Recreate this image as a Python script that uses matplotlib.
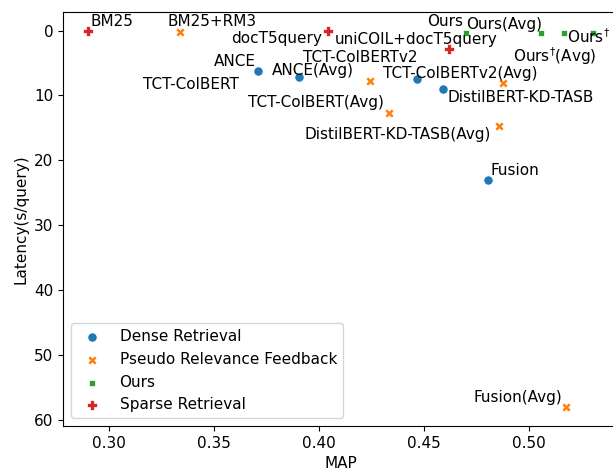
import matplotlib
matplotlib.use("Agg")
import matplotlib.pyplot as plt

plt.rcParams['font.size'] = 11

# Method names, retrieval effectiveness (MAP) and latency (s/query)
dense_names = ["ANCE", "TCT-ColBERT", "TCT-ColBERTv2", "DistilBERT-KD-TASB", "Fusion"]
dense_map = [0.371, 0.3905, 0.4467, 0.4591, 0.4805]
dense_lat = [6.3, 7.1, 7.4, 9.05, 23.0]

prf_names = ["BM25+RM3", "ANCE(Avg)", "TCT-ColBERT(Avg)", "TCT-ColBERTv2(Avg)",
             "DistilBERT-KD-TASB(Avg)", "Fusion(Avg)"]
prf_map = [0.3339, 0.4244, 0.4335, 0.4877, 0.4858, 0.5177]
prf_lat = [0.2, 7.7, 12.7, 8.0, 14.7, 58.0]

ours_names = ["Ours", "Ours(Avg)", r"Ours$^{\dagger}$", r"Ours$^{\dagger}$(Avg)"]
ours_map = [0.4701, 0.5058, 0.5168, 0.5306]
ours_lat = [0.3, 0.3, 0.45, 0.45]

sparse_names = ["BM25", "docT5query", "uniCOIL+docT5query"]
sparse_map = [0.2902, 0.4043, 0.4619]
sparse_lat = [0.1, 0.1, 2.9]

# label offsets from the point, in pixels (left edge of text, baseline)
label_offsets = {
    "BM25": (2, 5), "BM25+RM3": (-13, 6), "docT5query": (-97, -12),
    "uniCOIL+docT5query": (-114, 5), "ANCE": (-44, 5), "TCT-ColBERT": (-156, -12),
    "TCT-ColBERTv2": (-114, 17), "DistilBERT-KD-TASB": (4, -13), "Fusion": (2, 5),
    "ANCE(Avg)": (-98, 6), "TCT-ColBERT(Avg)": (-141, 6), "TCT-ColBERTv2(Avg)": (-120, 5),
    "DistilBERT-KD-TASB(Avg)": (-195, -13), "Fusion(Avg)": (-93, 5),
    "Ours": (-39, 7), "Ours(Avg)": (-75, 4), r"Ours$^{\dagger}$": (3, -10),
    r"Ours$^{\dagger}$(Avg)": (-80, -29),
}

groups = [
    ("Dense Retrieval", dense_names, dense_map, dense_lat, "#1f77b4", "o"),
    ("Pseudo Relevance Feedback", prf_names, prf_map, prf_lat, "#ff7f0e", "X"),
    ("Ours", ours_names, ours_map, ours_lat, "#2ca02c", (4, 0, 45)),
    ("Sparse Retrieval", sparse_names, sparse_map, sparse_lat, "#d62728", "P"),
]

fig = plt.figure(figsize=(6.13, 4.70), dpi=100)
ax = fig.add_axes([0.1028, 0.0936, 0.9063, 0.880])

for cat, names, xs, ys, col, mk in groups:
    ax.scatter(xs, ys, c=col, marker=mk, s=44, edgecolors='w', linewidths=0.5, label=cat)
    for name, x, y in zip(names, xs, ys):
        dx, dy = label_offsets[name]
        ax.annotate(name, (x, y), xytext=(dx, dy), textcoords='offset pixels',
                    ha='left', va='baseline')

ax.invert_yaxis()
ax.set_xlabel("MAP")
ax.set_ylabel("Latency(s/query)")
ax.legend(loc='lower left')

fig.savefig("out.png", dpi=100)
